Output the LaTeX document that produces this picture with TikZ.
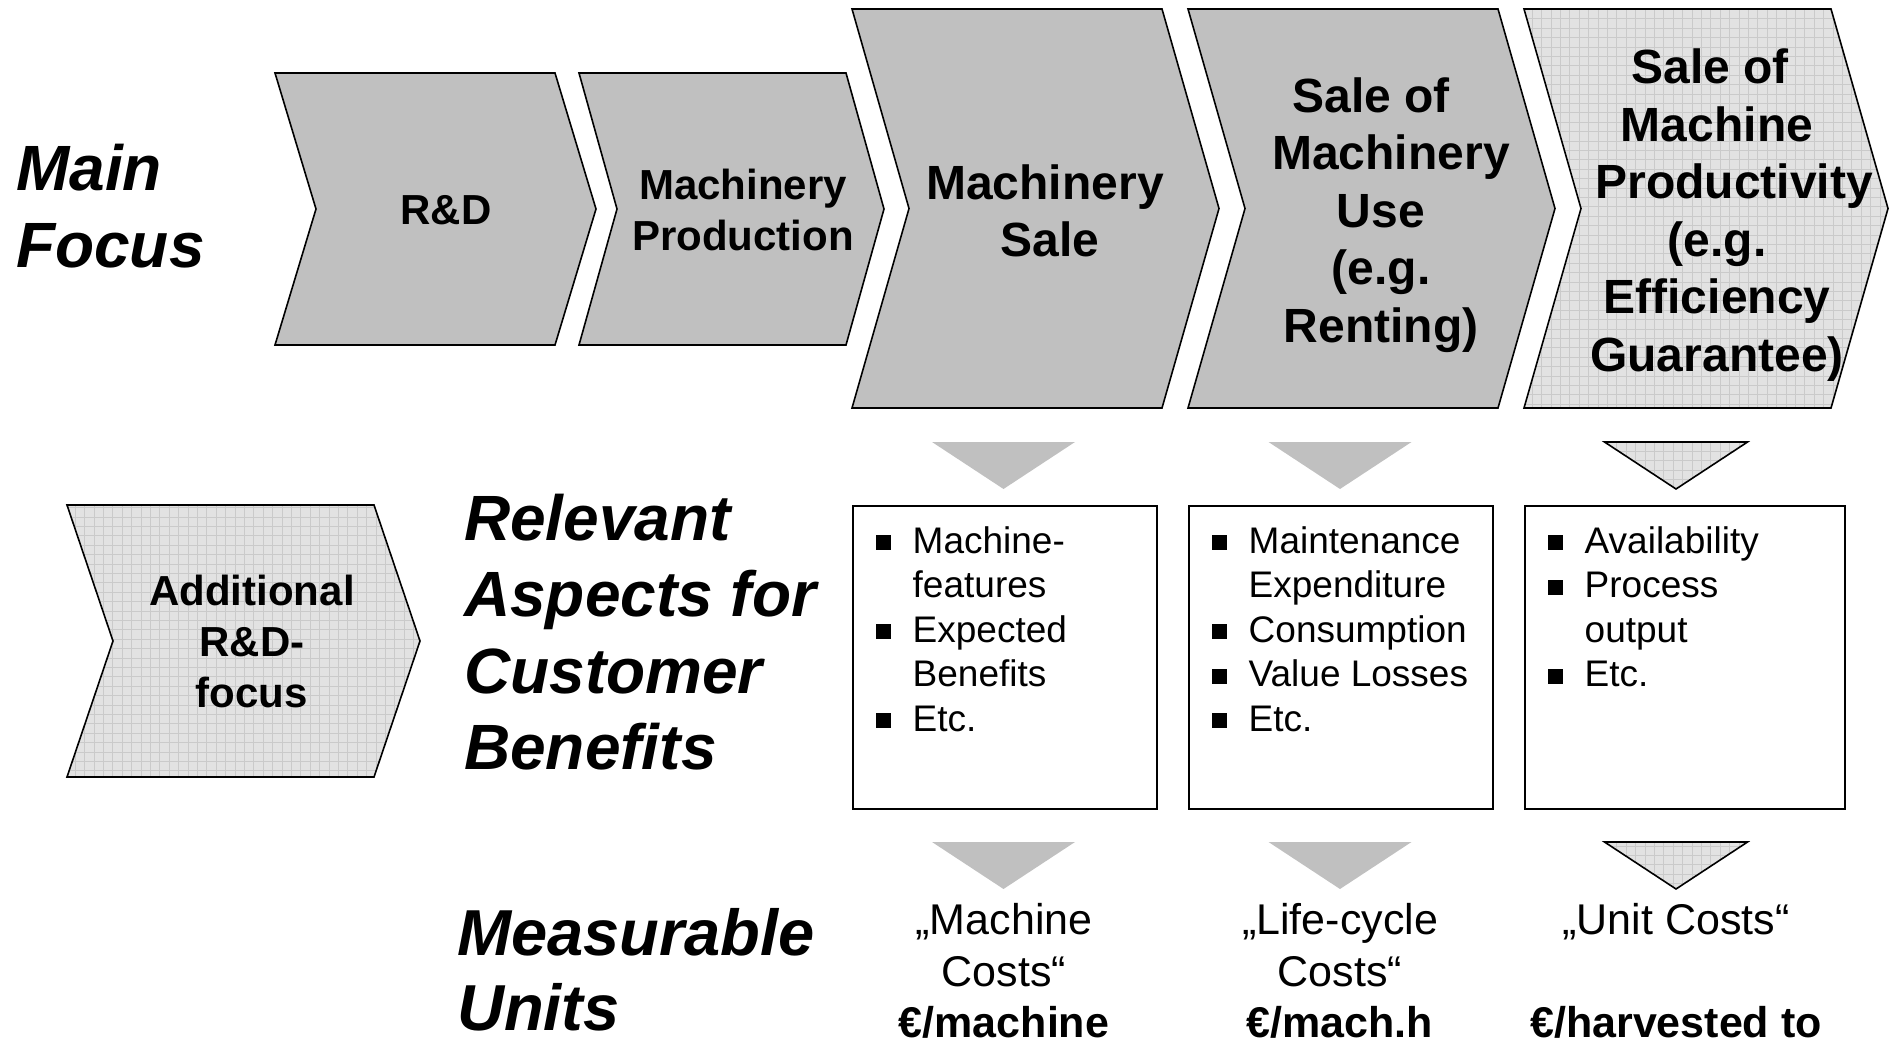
\documentclass[tikz,border=0pt]{standalone}
\usepackage{fontspec}
\setmainfont{Liberation Sans}
\definecolor{chevgray}{RGB}{192,192,192}
\definecolor{gridbg}{RGB}{226,226,226}
\definecolor{gridln}{RGB}{202,202,202}
\tikzset{
  chevsolid/.style={draw=black, line width=1.6pt, fill=chevgray, line join=miter},
  gridfill/.style={path picture={
      \fill[gridbg] (path picture bounding box.south west) rectangle (path picture bounding box.north east);
      \draw[gridln, line width=0.7pt] (path picture bounding box.south west) grid[step=9.4pt] (path picture bounding box.north east);}},
  chevgrid/.style={draw=black, line width=1.6pt, line join=miter, gridfill},
  trisolid/.style={fill=chevgray},
  trigrid/.style={draw=black, line width=1.6pt, line join=miter, gridfill},
  headtxt/.style={font=\bfseries\itshape\fontsize{64}{76.5}\selectfont, align=left, inner sep=0pt, anchor=west},
  chevsmalltxt/.style={font=\bfseries\fontsize{42}{51}\selectfont, align=center, inner sep=0pt},
  chevbigtxt/.style={font=\bfseries\fontsize{48}{57.5}\selectfont, align=center, inner sep=0pt},
  aspectbox/.style={draw=black, line width=1.6pt, inner sep=0pt, anchor=north west},
  bullettxt/.style={font=\fontsize{37}{44.6}\selectfont, align=left, anchor=north west, inner sep=0pt},
  unittxt/.style={font=\fontsize{43}{51.5}\selectfont, align=center, inner sep=0pt},
}
\newcommand\mychev[6]{%
  \path[#1] (#2,#3) -- ({#2+#4-#6},#3) -- ({#2+#4},{#3+#5/2}) -- ({#2+#4-#6},{#3+#5})
    -- (#2,{#3+#5}) -- ({#2+#6},{#3+#5/2}) -- cycle;}
\newcommand\mytri[4]{% style, cx, ytop, ybottom
  \path[#1] ({#2-71.5},#3) -- ({#2+71.5},#3) -- (#2,#4) -- cycle;}
\newcommand\mybul{\makebox[37pt][l]{\rule[3pt]{15pt}{15pt}}}
\newcommand\myind{\hspace*{37pt}}
\begin{document}
\begin{tikzpicture}[x=1pt, y=-1pt]
\useasboundingbox (0,0) rectangle (1889,1040);

% left headings
\node[headtxt] (mainfocus) at (16,206) {Main\\Focus};
\node[headtxt] (relevant) at (464,632) {Relevant\\Aspects for\\Customer\\Benefits};
\node[headtxt, font=\bfseries\itshape\fontsize{65}{75}\selectfont] (measurable) at (457,970) {Measurable\\Units};

% chevrons
\mychev{chevsolid}{275}{73}{321}{272}{41}
\mychev{chevsolid}{579}{73}{305}{272}{38}
\mychev{chevsolid}{852}{9}{367}{399}{57}
\mychev{chevsolid}{1188}{9}{367}{399}{57}
\mychev{chevgrid}{1524}{9}{364}{399}{57}
\mychev{chevgrid}{67}{505}{353}{272}{46}

\node[chevsmalltxt] (rd) at (446,210) {R\&D};
\node[chevsmalltxt] (mp) at (743,210) {Machinery\\Production};
\node[chevbigtxt] (ms) at (1045,211) {Machinery\\\hspace*{10pt}Sale};
\node[chevbigtxt] (su) at (1381,215) {Sale of\hspace*{20pt}\\\hspace*{20pt}Machinery\\Use\\(e.g.\\Renting)};
\node[chevbigtxt] (sp) at (1717,215) {Sale of\hspace*{14pt}\\Machine\\\hspace*{34pt}Productivity\\(e.g.\hspace*{10pt}\\Efficiency\\Guarantee)};
\node[chevsmalltxt] (ad) at (252,641) {Additional\\R\&D-\\focus};

% upper triangles
\mytri{trisolid}{1003.5}{442}{489}
\mytri{trisolid}{1340}{442}{489}
\mytri{trigrid}{1676}{442}{489}

% boxes
\node[aspectbox, minimum width=304pt, minimum height=303pt] (b1) at (852,505) {};
\node[aspectbox, minimum width=304pt, minimum height=303pt] (b2) at (1188,505) {};
\node[aspectbox, minimum width=320pt, minimum height=303pt] (b3) at (1524,505) {};

\node[bullettxt] (l1) at (875.5,526) {\mybul Machine-\\\myind features\\\mybul Expected\\\myind Benefits\\\mybul Etc.};
\node[bullettxt] (l2) at (1211.5,526) {\mybul Maintenance\\\myind Expenditure\\\mybul Consumption\\\mybul Value Losses\\\mybul Etc.};
\node[bullettxt] (l3) at (1547.5,526) {\mybul Availability\\\mybul Process\\\myind output\\\mybul Etc.};

% lower triangles
\mytri{trisolid}{1003.5}{842}{889}
\mytri{trisolid}{1340}{842}{889}
\mytri{trigrid}{1676}{842}{889}

% units
\node[unittxt] (u1) at (1004,971) {„Machine\\Costs“\\\textbf{€/machine}};
\node[unittxt] (u2) at (1340,971) {„Life-cycle\\Costs“\\\textbf{€/mach.h}};
\node[unittxt] (u3) at (1676,971) {„Unit Costs“\\\mbox{}\\\textbf{€/harvested to}};
\end{tikzpicture}
\end{document}
